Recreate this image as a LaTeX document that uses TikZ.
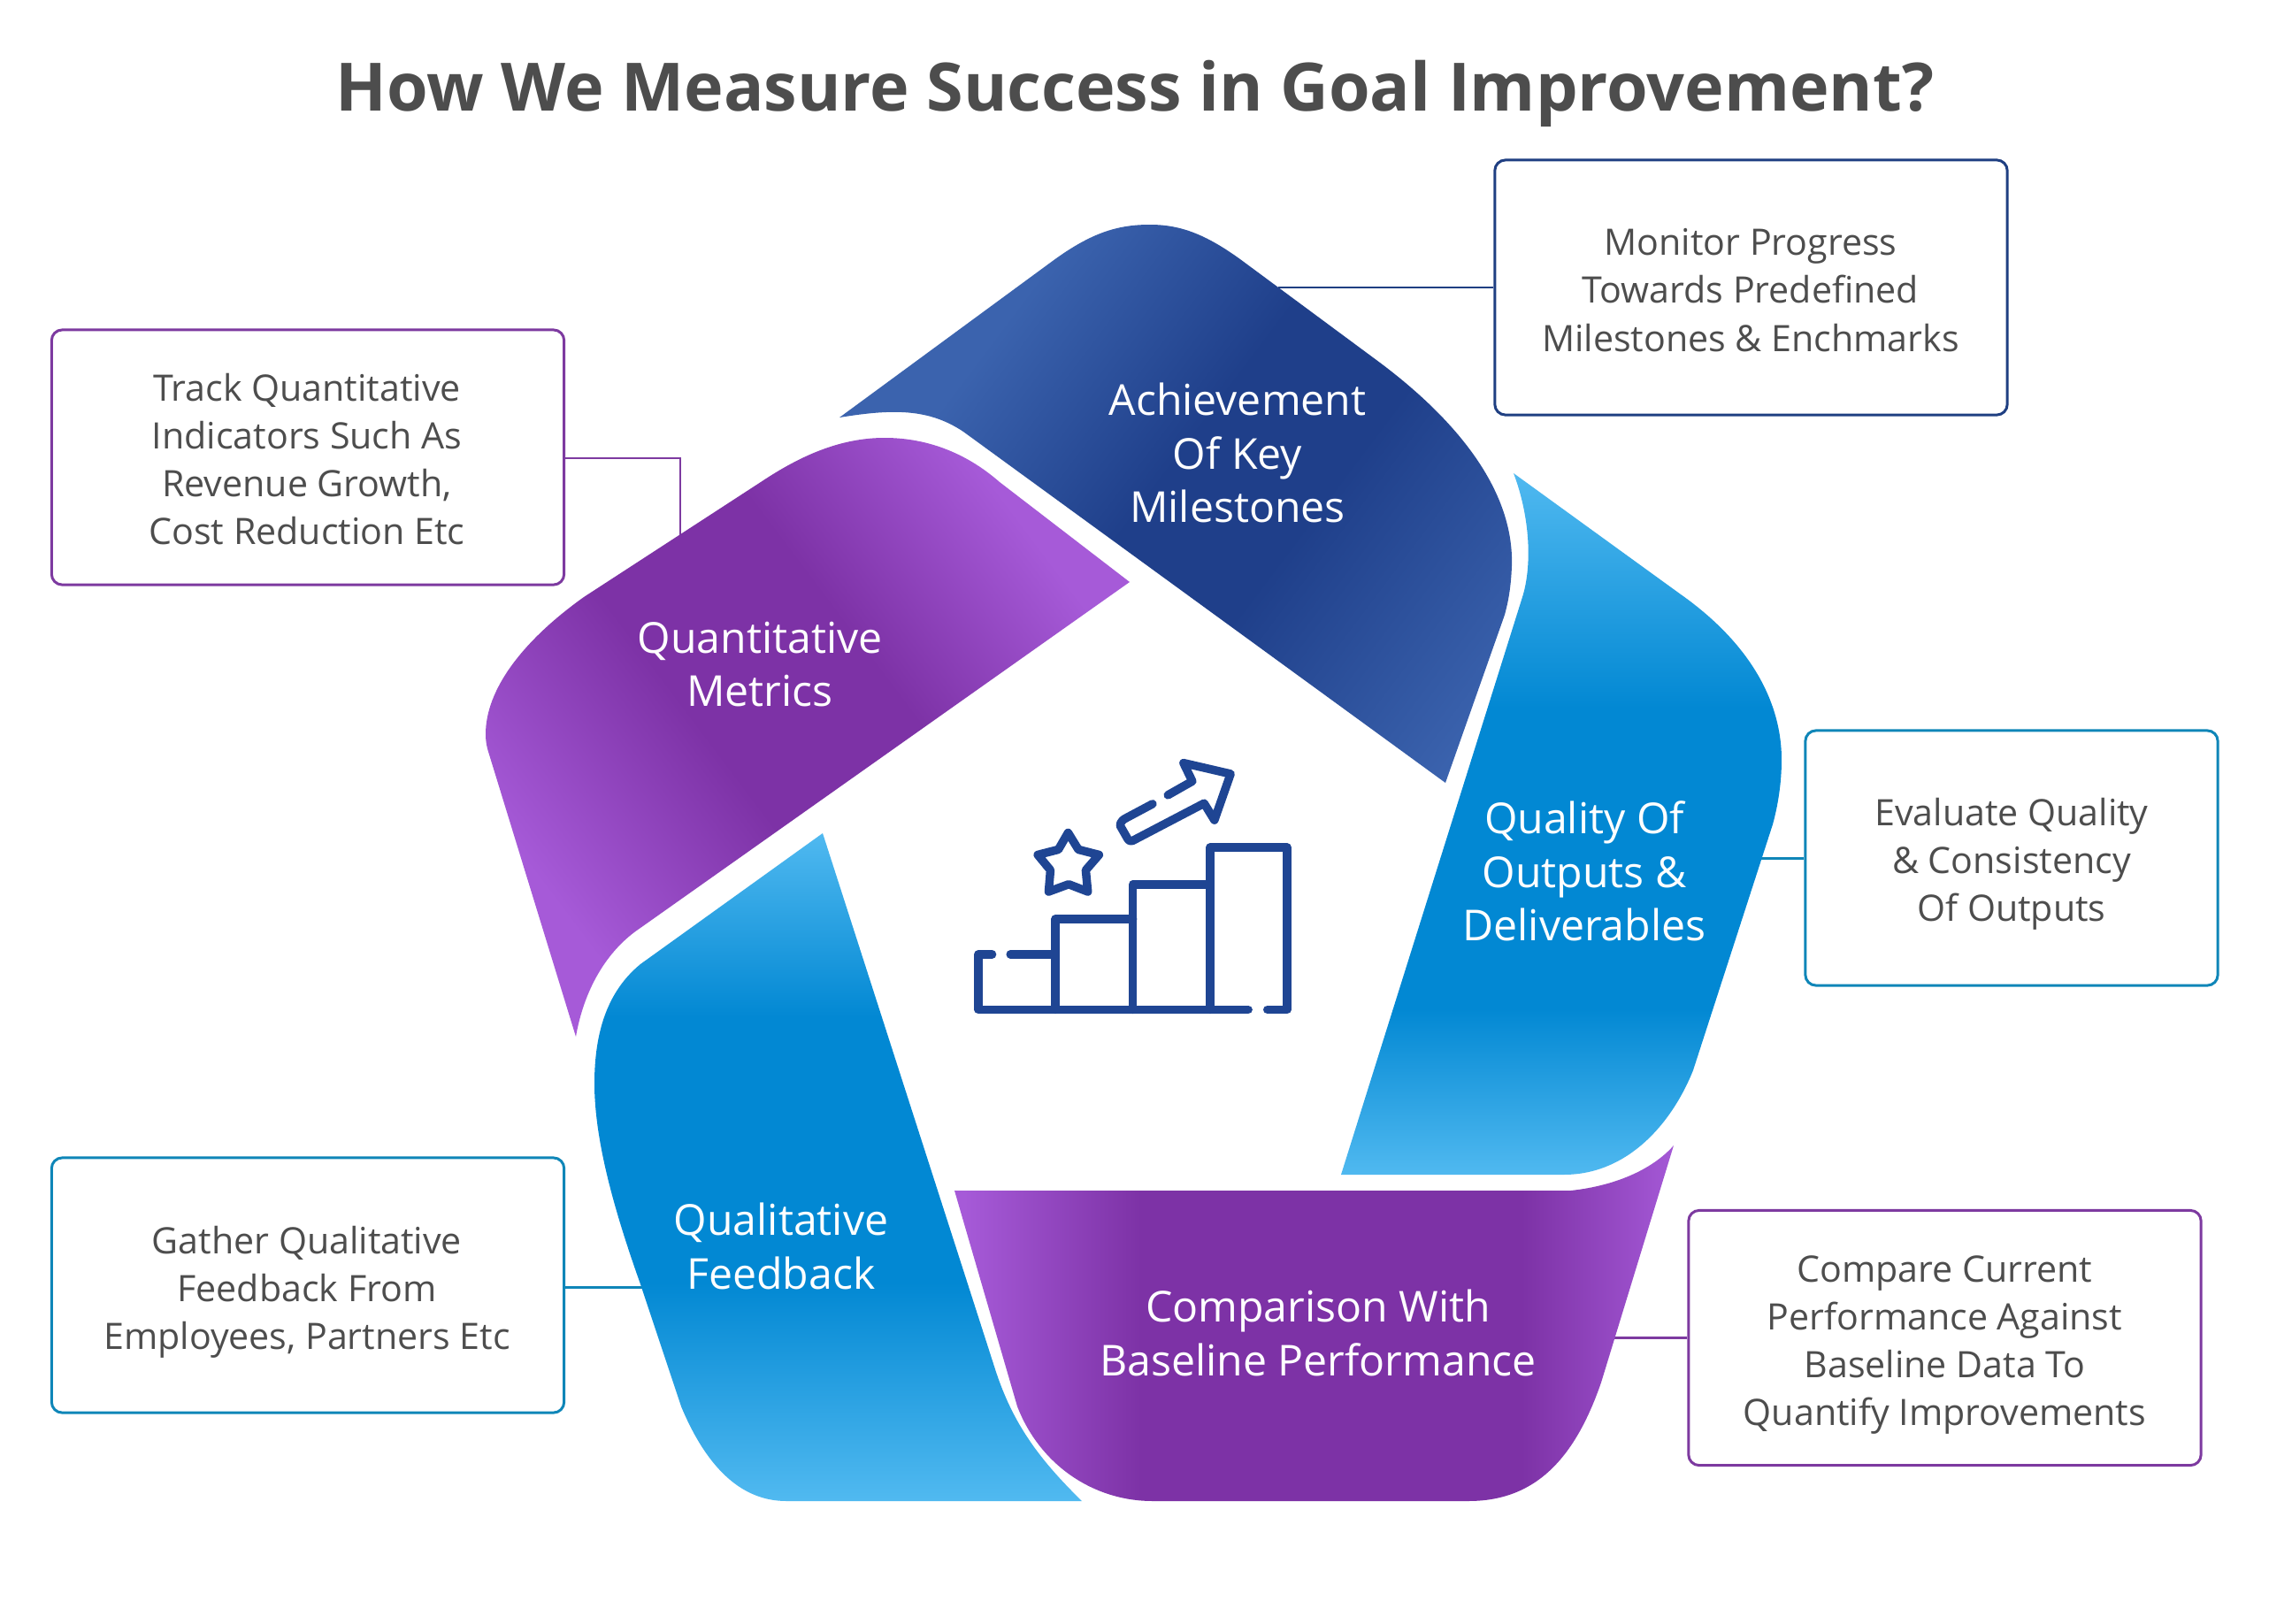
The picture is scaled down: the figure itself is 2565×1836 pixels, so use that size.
\documentclass[tikz,border=0pt]{standalone}
\usepackage{fontspec}
\setmainfont{Open Sans}
\definecolor{navl}{HTML}{3B63AE}
\definecolor{navd}{HTML}{1F3F8A}
\definecolor{purl}{HTML}{A65AD8}
\definecolor{purd}{HTML}{7D32A6}
\definecolor{blul}{HTML}{50B9F0}
\definecolor{blud}{HTML}{0288D3}
\definecolor{navline}{HTML}{1F3F82}
\definecolor{purline}{HTML}{7D3AA0}
\definecolor{bluline}{HTML}{0F86B8}
\definecolor{iconblue}{HTML}{1F4593}
\definecolor{txt}{HTML}{4D4D4D}
\pgfdeclarehorizontalshading{achvshade}{100bp}{color(0bp)=(navl); color(43.4bp)=(navl); color(48.4bp)=(navd); color(51.6bp)=(navd); color(57.6bp)=(navl); color(100bp)=(navl)}
\pgfdeclarehorizontalshading{quantshade}{100bp}{color(0bp)=(purl); color(43bp)=(purl); color(48bp)=(purd); color(52bp)=(purd); color(56.6bp)=(purl); color(100bp)=(purl)}
\pgfdeclarehorizontalshading{qualityshade}{100bp}{color(0bp)=(blul); color(42.7bp)=(blul); color(48bp)=(blud); color(54.8bp)=(blud); color(58.56bp)=(blul); color(100bp)=(blul)}
\pgfdeclarehorizontalshading{qualshade}{100bp}{color(0bp)=(blul); color(42.84bp)=(blul); color(47bp)=(blud); color(53bp)=(blud); color(57.9bp)=(blul); color(100bp)=(blul)}
\pgfdeclarehorizontalshading{compshade}{100bp}{color(0bp)=(purl); color(42.1bp)=(purl); color(46.1bp)=(purd); color(54.7bp)=(purd); color(58.3bp)=(purl); color(100bp)=(purl)}
\newcommand\bandfill[5]{\begin{scope}\clip #1;\shade[shading=#2,shading angle=#5] ({#3-1250},{#4-1250}) rectangle ({#3+1250},{#4+1250});\end{scope}}
\tikzset{
  infobox/.style={draw,line width=0.85pt,rounded corners=3.4pt,fill=white,minimum width=#1,minimum height=2.88cm,inner sep=0pt},
  boxtext/.style={inner sep=0pt,text=txt,align=center,font=\fontsize{11.7}{15.4}\selectfont},
  bandlabel/.style={inner sep=0pt,text=white,align=center,font=\fontsize{13.7}{17.2}\selectfont},
  leader/.style={line width=0.85pt},
  iconline/.style={draw=iconblue,line width=0.01cm*9.5,line cap=round,line join=round}
}
\begin{document}
\begin{tikzpicture}[x=0.01cm,y=-0.01cm]
\useasboundingbox (0,0) rectangle (2565,1836);
\fill[white] (0,0) rectangle (2565,1836);
\node[inner sep=0pt,text=txt,font=\fontsize{21.45}{26}\selectfont\bfseries] (title) at (1283,106) {How We Measure Success in Goal Improvement?};
% connectors ends
\coordinate (cm) at (1445,325);
\coordinate (cq) at (1980,970);
\coordinate (cg) at (740,1455);
\coordinate (cc) at (1800,1512);
\coordinate (ct) at (769,518);
\coordinate (ctb) at (769,620);
% info boxes
\node[infobox=5.79cm,draw=navline] (mon) at (1979.5,325) {};
\node[infobox=5.79cm,draw=purline] (trk) at (348,517) {};
\node[infobox=4.66cm,draw=bluline] (evl) at (2274,970) {};
\node[infobox=5.79cm,draw=bluline] (gat) at (348,1453) {};
\node[infobox=5.79cm,draw=purline] (cmp) at (2198.5,1512.5) {};
\node[boxtext] (montxt) at (1979,328) {Monitor Progress\\Towards Predefined\\Milestones \& Enchmarks};
\node[boxtext] (trktxt) at (347,519) {Track Quantitative\\Indicators Such As\\Revenue Growth,\\Cost Reduction Etc};
\node[boxtext] (evltxt) at (2274,976.5) {Evaluate Quality\\\& Consistency\\Of Outputs};
\node[boxtext] (gattxt) at (347,1461) {Gather Qualitative\\Feedback From\\Employees, Partners Etc};
\node[boxtext] (cmptxt) at (2198.5,1520.5) {Compare Current\\Performance Against\\Baseline Data To\\Quantify Improvements};
\draw[leader,draw=navline] (cm -| mon.west) -- (cm);
\draw[leader,draw=bluline] (cq -| evl.west) -- (cq);
\draw[leader,draw=bluline] (cg -| gat.east) -- (cg);
\draw[leader,draw=purline] (cc -| cmp.west) -- (cc);
\draw[leader,draw=purline] (ct -| trk.east) -- (ct) -- (ctb);
% bands
\bandfill{(949,472) -- (1190,295) .. controls (1235,262) and (1265,254) .. (1300,254) .. controls (1335,254) and (1365,265) .. (1410,299) -- (1560,410) .. controls (1640,470) and (1712,550) .. (1709,640) .. controls (1708,665) and (1705,680) .. (1701,695) -- (1634,885) -- (1089,488) .. controls (1050,462) and (1010,462) .. (949,472) -- cycle}{achvshade}{1400}{560}{-37}
\bandfill{(1711,535) -- (1900,672) .. controls (1975,725) and (2014,790) .. (2014,859) .. controls (2014,885) and (2010,910) .. (2004,932) -- (1914,1210) .. controls (1890,1270) and (1840,1328) .. (1768,1328) -- (1516,1328) -- (1721,675) .. controls (1732,640) and (1730,585) .. (1711,535) -- cycle}{qualityshade}{1800}{900}{-90}
\bandfill{(1079,1346) -- (1776,1346) .. controls (1830,1340) and (1870,1320) .. (1892,1295) -- (1810,1563) .. controls (1780,1650) and (1735,1697) .. (1660,1697) -- (1303,1697) .. controls (1235,1697) and (1175,1655) .. (1150,1590) -- cycle}{compshade}{1485}{1500}{0}
\bandfill{(930,942) -- (724,1090) .. controls (685,1122) and (672,1170) .. (672,1225) .. controls (672,1290) and (695,1370) .. (723,1449) -- (770,1590) .. controls (800,1662) and (840,1697) .. (889,1697) -- (1223,1697) .. controls (1175,1650) and (1145,1610) .. (1125,1548) -- cycle}{qualshade}{900}{1300}{-90}
\bandfill{(1277,658) -- (1130,545) .. controls (1090,510) and (1045,495) .. (1000,495) .. controls (950,495) and (905,515) .. (860,545) -- (660,675) .. controls (590,725) and (549,780) .. (549,830) .. controls (549,840) and (551,847) .. (553,853) -- (651,1172) .. controls (660,1120) and (685,1075) .. (724,1049) -- cycle}{quantshade}{900}{800}{37}
% band labels
\node[bandlabel] (lachv) at (1399,512) {Achievement\\Of Key\\Milestones};
\node[bandlabel] (lquant) at (859,751) {Quantitative\\Metrics};
\node[bandlabel] (lquality) at (1791,985) {Quality Of\\Outputs \&\\Deliverables};
\node[bandlabel] (lqual) at (883,1409) {Qualitative\\Feedback};
\node[bandlabel] (lcomp) at (1490,1507) {Comparison With\\Baseline Performance};
% icon
\begin{scope}[shift={(1060,820)},x=0.0033333cm,y=-0.0033333cm]
\draw[iconline] (185,778) -- (138,778) -- (138,966) -- (1055,966);
\draw[iconline] (1120,966) -- (1187,966) -- (1187,415) -- (925,415) -- (925,966);
\draw[iconline] (925,541) -- (663,541) -- (663,966);
\draw[iconline] (663,658) -- (400,658) -- (400,966);
\draw[iconline] (400,778) -- (247,778);
\draw[iconline] (443,365) -- (478,422) -- (548,440) -- (503,492) -- (510,565) -- (445,540) -- (377,565) -- (383,492) -- (340,440) -- (410,422) -- cycle;
\draw[iconline] (730,267) -- (640,315) .. controls (620,325) and (615,340) .. (625,350) -- (645,385) .. controls (650,395) and (660,395) .. (670,388) -- (905,265) -- (940,322) -- (995,165) -- (835,128) -- (865,190) -- (782,237);
\end{scope}
\end{tikzpicture}
\end{document}
